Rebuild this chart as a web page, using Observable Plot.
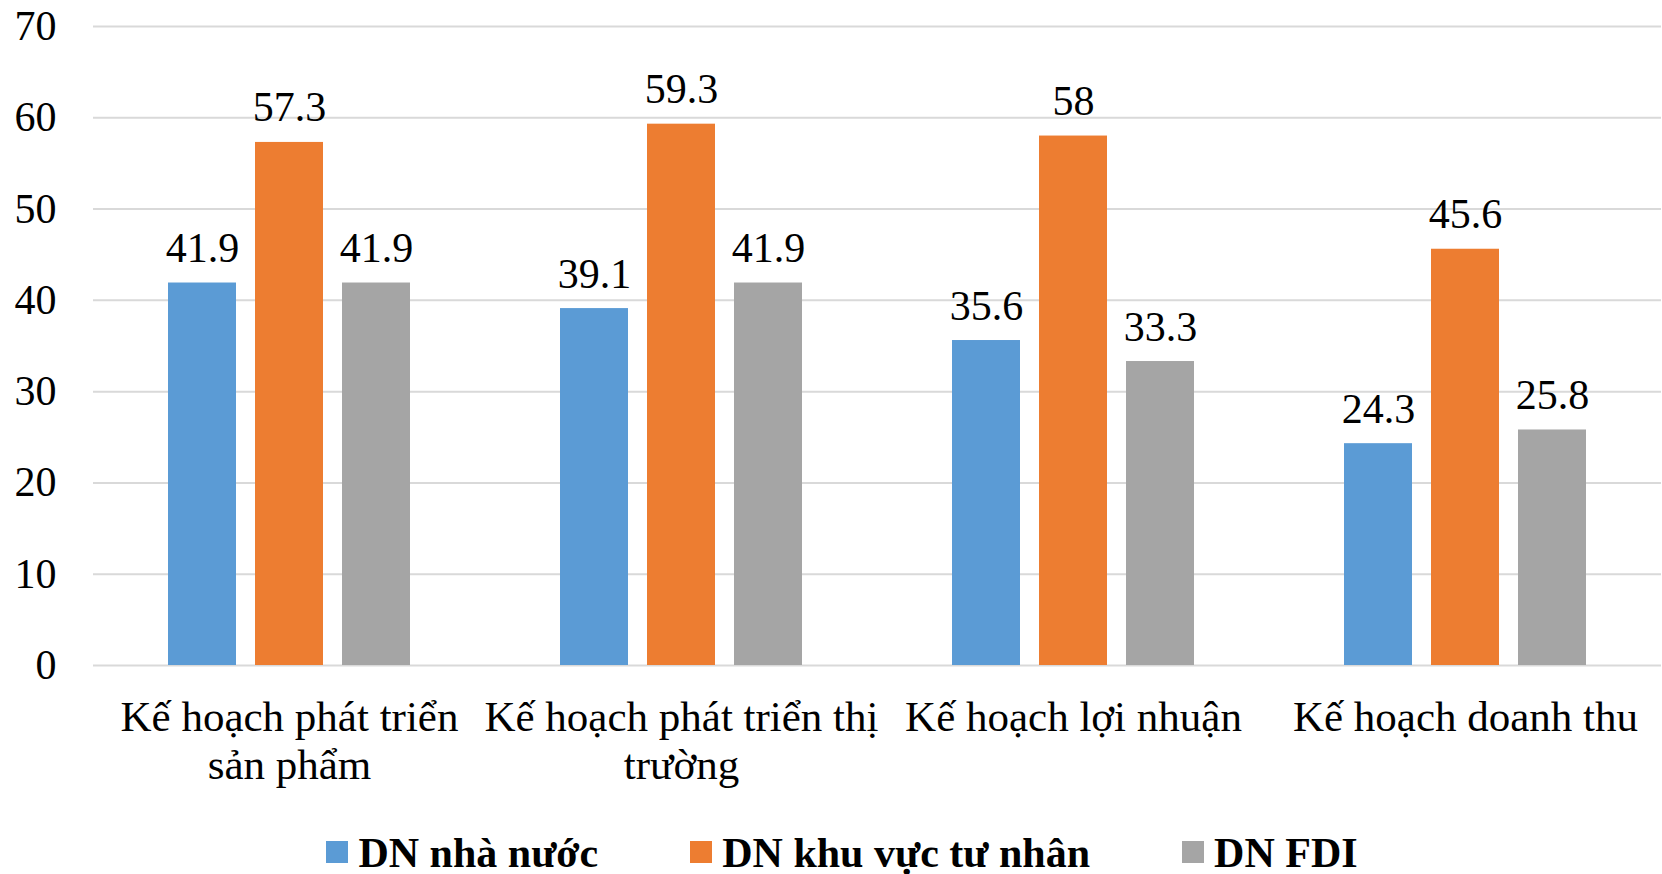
<!DOCTYPE html>
<html><head><meta charset="utf-8">
<script src="https://cdn.jsdelivr.net/npm/d3@7"></script>
<script src="https://cdn.jsdelivr.net/npm/@observablehq/plot@0.6"></script>
<style>
html,body{margin:0;padding:0;background:#fff;overflow:hidden;}
body{font-family:"Liberation Serif","Times New Roman",Times,"DejaVu Serif",serif;width:1662px;height:874px;}
#chart svg{display:block;}
#chart svg text{font-family:"Liberation Serif","Times New Roman",Times,"DejaVu Serif",serif;}
#legend{padding-top:20px;padding-left:22px;height:46px;line-height:46px;font-size:42px;font-weight:bold;color:#000;text-align:center;white-space:nowrap;}
#legend .item{display:inline-block;margin:0 46px;}
#legend .sw{display:inline-block;width:22px;height:22px;margin-right:10px;margin-bottom:4px;vertical-align:baseline;}
</style></head><body><div id="chart"></div><div id="legend"></div>
<script>
const categories = ["Kế hoạch phát triển sản phẩm","Kế hoạch phát triển thị trường","Kế hoạch lợi nhuận","Kế hoạch doanh thu"];
const tickLabels = ["Kế hoạch phát triển\nsản phẩm","Kế hoạch phát triển thị\ntrường","Kế hoạch lợi nhuận","Kế hoạch doanh thu"];
const series = ["DN nhà nước","DN khu vực tư nhân","DN FDI"];
const stateValues = [41.9,39.1,35.6,24.3];
const privateValues = [57.3,59.3,58,45.6];
const fdiValues = [41.9,41.9,33.3,25.8];
const colors = ["#5b9bd5","#ed7d31","#a5a5a5"];
const yTicks = [0,10,20,30,40,50,60,70];

const seriesValues = [stateValues, privateValues, fdiValues];
const data = categories.flatMap((c,i)=>series.map((s,j)=>({cat:c, series:s, value:seriesValues[j][i]})));

const chart = Plot.plot({
  width:1662, height:810,
  marginLeft:92, marginRight:0, marginTop:26, marginBottom:145,
  style:{fontSize:"42px", color:"#000", background:"#fff"},
  fx:{domain:categories, padding:0, label:null},
  x:{domain:series, paddingInner:0.217, paddingOuter:0.846, axis:null},
  y:{domain:[0,70], label:null},
  color:{domain:series, range:colors},
  marks:[
    Plot.ruleY(yTicks,{stroke:"#d9d9d9", strokeWidth:2}),
    Plot.barY(data,{fx:"cat", x:"series", y:"value", fill:"series"}),
    Plot.text(data,{fx:"cat", x:"series", y:"value", text:d=>String(d.value), lineAnchor:"bottom", dy:-21, fill:"#000", fontSize:42}),
    Plot.axisY({ticks:yTicks, tickSize:0, tickPadding:37, label:null, fontSize:42}),
    Plot.axisFx({anchor:"bottom", tickSize:0, tickPadding:32, tickFormat:d=>tickLabels[categories.indexOf(d)], lineHeight:1.11, label:null, fontSize:43})
  ]
});
document.getElementById("chart").appendChild(chart);

const legend = document.getElementById("legend");
series.forEach((s,i)=>{
  const item = document.createElement("span");
  item.className = "item";
  const sw = document.createElement("span");
  sw.className = "sw";
  sw.style.background = colors[i];
  item.appendChild(sw);
  item.appendChild(document.createTextNode(s));
  legend.appendChild(item);
});
</script>
</body></html>
